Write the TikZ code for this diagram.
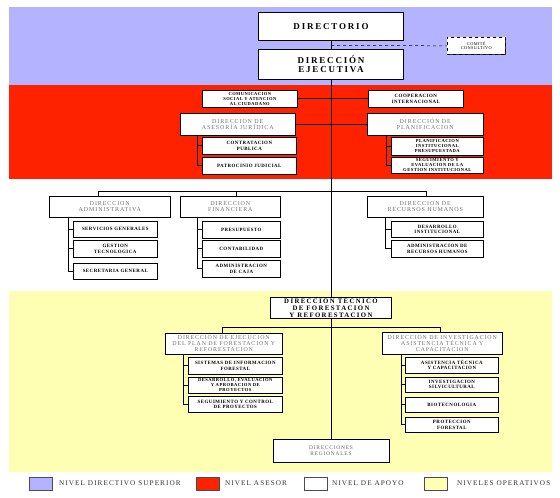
\documentclass[tikz,border=0pt]{standalone}
\usepackage{fontspec}
\setmainfont{Liberation Serif}
\newfontfamily\lsMain[LetterSpace=20]{Liberation Serif}
\newfontfamily\lsDir[LetterSpace=15]{Liberation Serif}
\newfontfamily\lsSub[LetterSpace=10]{Liberation Serif}
\usetikzlibrary{shadows}
\definecolor{bandblue}{RGB}{179,179,255}
\definecolor{bandred}{RGB}{255,34,0}
\definecolor{bandyellow}{RGB}{255,255,179}
\tikzset{
  box/.style={draw=black, fill=white, line width=0.6pt, align=center, inner sep=0pt,
    anchor=north west, drop shadow={shadow xshift=0.8pt, shadow yshift=-0.8pt, fill=black!80, opacity=1}},
  mainbox/.style={box, anchor=north, line width=0.8pt, font={\lsMain\bfseries\fontsize{9}{9.5}\selectfont}},
  tecbox/.style={box, anchor=north, line width=0.8pt, font={\lsMain\bfseries\fontsize{6.8}{7}\selectfont}},
  dirbox/.style={box, text=black!55, font={\lsDir\fontsize{6}{6.3}\selectfont}},
  subbox/.style={box, font={\lsSub\bfseries\fontsize{4.9}{5.2}\selectfont}},
  regbox/.style={box, anchor=north, text=black!60, font={\lsDir\fontsize{5.4}{5.8}\selectfont}},
  conn/.style={draw=black, line width=0.7pt},
  legsq/.style={draw=black!70, line width=0.6pt, minimum width=23, minimum height=13, inner sep=0pt, anchor=west},
  legtx/.style={anchor=west, inner sep=0pt, text=black!80, font={\lsDir\fontsize{7.2}{7.4}\selectfont}}
}
\begin{document}
\begin{tikzpicture}[x=1pt,y=-1pt]
\useasboundingbox (0,0) rectangle (560,498);
% bands
\fill[bandblue] (9,7) rectangle (552,85);
\fill[bandred] (9,85) rectangle (552,179);
\fill[bandyellow] (9,291) rectangle (552,472);

% top level
\node[mainbox, minimum width=145, minimum height=28] (dir) at (331,12) {DIRECTORIO};
\node[mainbox, minimum width=145, minimum height=30] (eje) at (331,49) {DIRECCIÓN\\EJECUTIVA};
\node[box, dashed, line width=0.6pt, drop shadow={opacity=0}, minimum width=58, minimum height=17,
      font={\lsSub\fontsize{4.3}{4.6}\selectfont}] (com) at (447,37) {COMITÉ\\CONSULTIVO};
\coordinate (cc) at (331,45.5);
\draw[conn, dashed, line width=0.5pt] (cc) -- (com.west);

% red level
\node[subbox, minimum width=95, minimum height=17, font={\lsSub\bfseries\fontsize{4.5}{4.9}\selectfont}] (comu) at (202,90) {COMUNICACION\\SOCIAL Y ATENCION\\AL CIUDADANO};
\node[subbox, minimum width=95, minimum height=17] (coop) at (368,90) {COOPERACION\\INTERNACIONAL};
\node[dirbox, minimum width=115, minimum height=22] (ases) at (180,113) {DIRECCION DE\\ASESORÍA JURÍDICA};
\node[dirbox, minimum width=116, minimum height=22] (plan) at (367,113) {DIRECCIÓN DE\\PLANIFICACION};
\node[subbox, minimum width=94, minimum height=17] (cont) at (202,137) {CONTRATACION\\PUBLICA};
\node[subbox, minimum width=94, minimum height=17] (patr) at (202,157) {PATROCINIO JUDICIAL};
\node[subbox, minimum width=92, minimum height=18, font={\lsSub\bfseries\fontsize{4.6}{4.9}\selectfont}] (pinst) at (391,137) {PLANIFICACION\\INSTITUCIONAL\\PRESUPUESTADA};
\node[subbox, minimum width=92, minimum height=16, font={\lsSub\bfseries\fontsize{4.6}{4.9}\selectfont}] (segi) at (391,157) {SEGUIMIENTO Y\\EVALUACION DE LA\\GESTION INSTITUCIONAL};

% white level
\node[dirbox, minimum width=121, minimum height=21] (adm) at (49,196) {DIRECCION\\ADMINISTRATIVA};
\node[dirbox, minimum width=100, minimum height=21] (fin) at (180,196) {DIRECCION\\FINANCIERA};
\node[dirbox, minimum width=116, minimum height=21] (rrhh) at (367,196) {DIRECCION DE\\RECURSOS HUMANOS};
\node[subbox, minimum width=84, minimum height=16] (serv) at (73,221) {SERVICIOS GENERALES};
\node[subbox, minimum width=84, minimum height=17] (gest) at (73,240) {GESTION\\TECNOLOGICA};
\node[subbox, minimum width=84, minimum height=16] (secr) at (73,263) {SECRETARIA GENERAL};
\node[subbox, minimum width=78, minimum height=17] (pres) at (202,221) {PRESUPUESTO};
\node[subbox, minimum width=78, minimum height=17] (cont2) at (202,240) {CONTABILIDAD};
\node[subbox, minimum width=78, minimum height=17] (caja) at (202,260) {ADMINISTRACION\\DE CAJA};
\node[subbox, minimum width=92, minimum height=16] (desa) at (391,221) {DESARROLLO\\INSTITUCIONAL};
\node[subbox, minimum width=92, minimum height=17] (arh) at (391,240) {ADMINISTRACION DE\\RECURSOS HUMANOS};

% yellow level
\node[tecbox, minimum width=121, minimum height=21] (tec) at (331,297) {DIRECCIÓN TÉCNICO\\DE FORESTACION\\Y REFORESTACION};
\node[dirbox, minimum width=117, minimum height=21, font={\lsDir\fontsize{5.9}{6.1}\selectfont}] (ejec) at (165,333) {DIRECCION DE EJECUCION\\DEL PLAN DE FORESTACION Y\\REFORESTACION};
\node[dirbox, minimum width=120, minimum height=22, font={\lsDir\fontsize{5.9}{6.1}\selectfont}] (inv) at (382,332) {DIRECCION DE INVESTIGACION\\ASISTENCIA TÉCNICA Y\\CAPACITACION};
\node[subbox, minimum width=94, minimum height=17] (sist) at (188,357) {SISTEMAS DE INFORMACION\\FORESTAL};
\node[subbox, minimum width=94, minimum height=16, font={\lsSub\bfseries\fontsize{4.6}{4.9}\selectfont}] (deva) at (188,377) {DESARROLLO, EVALUACION\\Y APROBACION DE\\PROYECTOS};
\node[subbox, minimum width=94, minimum height=16] (segp) at (188,396) {SEGUIMIENTO Y CONTROL\\DE PROYECTOS};
\node[subbox, minimum width=93, minimum height=16] (asis) at (405,357) {ASISTENCIA TÉCNICA\\Y CAPACITACION};
\node[subbox, minimum width=93, minimum height=15] (silv) at (405,377) {INVESTIGACION\\SILVICULTURAL};
\node[subbox, minimum width=93, minimum height=15] (biot) at (405,397) {BIOTECNOLOGIA};
\node[subbox, minimum width=93, minimum height=15] (prot) at (405,417) {PROTECCION\\FORESTAL};
\node[regbox, minimum width=116, minimum height=23] (reg) at (331,439) {DIRECCIONES\\REGIONALES};

% main spine
\draw[conn] (dir.south) -- (eje.north);
\draw[conn] (eje.south) -- (tec.north);
\draw[conn] (tec.south) -- (reg.north);

% red connectors
\draw[conn] (comu.east) -- (coop.west);
\draw[conn] (ases.east) -- (plan.west);
\coordinate (bAs) at (197,0);
\coordinate (bPl) at (386,0);
\draw[conn] (ases.south -| bAs) |- (patr.west);
\draw[conn] (cont.west -| bAs) -- (cont.west);
\draw[conn] (plan.south -| bPl) |- (segi.west);
\draw[conn] (pinst.west -| bPl) -- (pinst.west);

% white connectors
\coordinate (dA) at (98,191);
\coordinate (dF) at (236,191);
\coordinate (dR) at (426,191);
\draw[conn] (dA) -- (dR);
\draw[conn] (dA) -- (adm.north -| dA);
\draw[conn] (dF) -- (fin.north -| dF);
\draw[conn] (dR) -- (rrhh.north -| dR);
\coordinate (bAd) at (68,0);
\coordinate (bFi) at (197,0);
\coordinate (bRh) at (385,0);
\draw[conn] (adm.south -| bAd) |- (secr.west);
\draw[conn] (serv.west -| bAd) -- (serv.west);
\draw[conn] (gest.west -| bAd) -- (gest.west);
\draw[conn] (fin.south -| bFi) |- (caja.west);
\draw[conn] (pres.west -| bFi) -- (pres.west);
\draw[conn] (cont2.west -| bFi) -- (cont2.west);
\draw[conn] (rrhh.south -| bRh) |- (arh.west);
\draw[conn] (desa.west -| bRh) -- (desa.west);

% yellow connectors
\coordinate (dE) at (222,327);
\coordinate (dI) at (440,327);
\draw[conn] (dE) -- (dI);
\draw[conn] (dE) -- (ejec.north -| dE);
\draw[conn] (dI) -- (inv.north -| dI);
\coordinate (bEj) at (183,0);
\coordinate (bIn) at (401,0);
\draw[conn] (ejec.south -| bEj) |- (segp.west);
\draw[conn] (sist.west -| bEj) -- (sist.west);
\draw[conn] (deva.west -| bEj) -- (deva.west);
\draw[conn] (inv.south -| bIn) |- (prot.west);
\draw[conn] (asis.west -| bIn) -- (asis.west);
\draw[conn] (silv.west -| bIn) -- (silv.west);
\draw[conn] (biot.west -| bIn) -- (biot.west);

% legend
\node[legsq, fill=bandblue] (l1) at (29,483.5) {};
\node[legtx] (t1) at (59,483.5) {NIVEL DIRECTIVO SUPERIOR};
\node[legsq, fill=bandred] (l2) at (196,483.5) {};
\node[legtx] (t2) at (225,483.5) {NIVEL ASESOR};
\node[legsq, fill=white] (l3) at (304,483.5) {};
\node[legtx] (t3) at (332,483.5) {NIVEL DE APOYO};
\node[legsq, fill=bandyellow] (l4) at (424,483.5) {};
\node[legtx] (t4) at (457,483.5) {NIVELES OPERATIVOS};
\end{tikzpicture}
\end{document}
